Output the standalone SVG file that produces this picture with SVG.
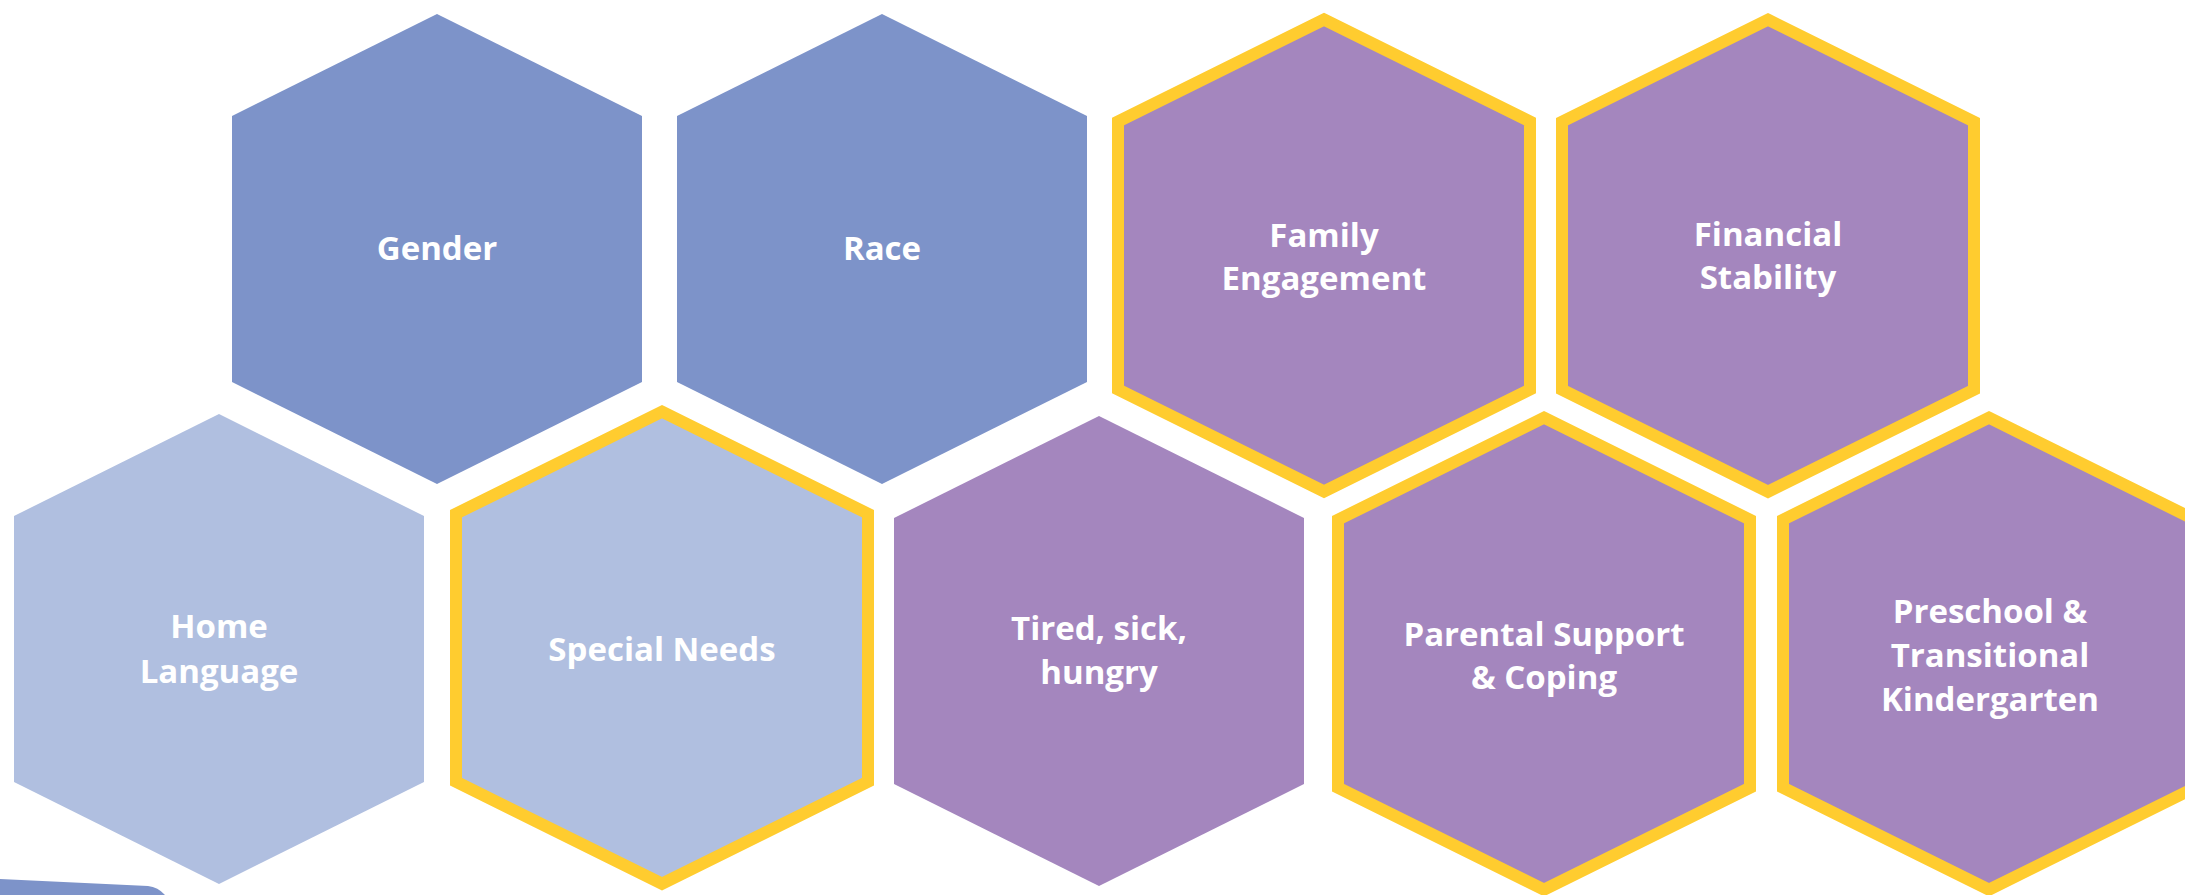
<svg xmlns="http://www.w3.org/2000/svg" width="2185" height="895" viewBox="0 0 2185 895">
<style>
.dark{fill:#7D93C9}
.light{fill:#B0BFE0}
.purple{fill:#A486BE}
.border{stroke:#FFCC2F;stroke-width:12;stroke-linejoin:miter}
.lbl{font-family:"Open Sans","Liberation Sans",sans-serif;font-weight:bold;font-size:33px;fill:#FFFFFF;text-anchor:middle}
</style>
<rect width="2185" height="895" fill="#FFFFFF"/>
<g id="gender">
<polygon class="dark" points="437,14 642,116 642,382 437,484 232,382 232,116"/>
<text class="lbl" x="437" y="260">Gender</text>
</g>
<g id="race">
<polygon class="dark" points="882,14 1087,116 1087,382 882,484 677,382 677,116"/>
<text class="lbl" x="882" y="260">Race</text>
</g>
<g id="family-engagement">
<polygon class="purple border" points="1324,19.5 1530,121.5 1530,389.5 1324,491.5 1118,389.5 1118,121.5"/>
<text class="lbl" x="1324" y="247">Family</text>
<text class="lbl" x="1324" y="290">Engagement</text>
</g>
<g id="financial-stability">
<polygon class="purple border" points="1768,19.7 1974,121.7 1974,389.7 1768,491.7 1562,389.7 1562,121.7"/>
<text class="lbl" x="1768" y="246">Financial</text>
<text class="lbl" x="1768" y="289">Stability</text>
</g>
<g id="home-language">
<polygon class="light" points="219,414 424,516 424,782 219,884 14,782 14,516"/>
<text class="lbl" x="219" y="638">Home</text>
<text class="lbl" x="219" y="683">Language</text>
</g>
<g id="special-needs">
<polygon class="light border" points="662,411.7 868,513.7 868,781.7 662,883.7 456,781.7 456,513.7"/>
<text class="lbl" x="662" y="661">Special Needs</text>
</g>
<g id="tired-sick-hungry">
<polygon class="purple" points="1099,416 1304,518 1304,784 1099,886 894,784 894,518"/>
<text class="lbl" x="1099" y="640">Tired, sick,</text>
<text class="lbl" x="1099" y="684">hungry</text>
</g>
<g id="parental-support">
<polygon class="purple border" points="1544,417.7 1750,519.7 1750,787.7 1544,889.7 1338,787.7 1338,519.7"/>
<text class="lbl" x="1544" y="646">Parental Support</text>
<text class="lbl" x="1544" y="689">&amp; Coping</text>
</g>
<g id="preschool-tk">
<polygon class="purple border" points="1989,417.7 2195,519.7 2195,787.7 1989,889.7 1783,787.7 1783,519.7"/>
<text class="lbl" x="1990" y="623">Preschool &amp;</text>
<text class="lbl" x="1990" y="667">Transitional</text>
<text class="lbl" x="1990" y="711">Kindergarten</text>
</g>
<g id="corner-shape">
<path class="dark" d="M0,879 L148,886 Q158,887 165,895 L0,895 Z"/>
</g>
<g id="connectors"></g>
</svg>
